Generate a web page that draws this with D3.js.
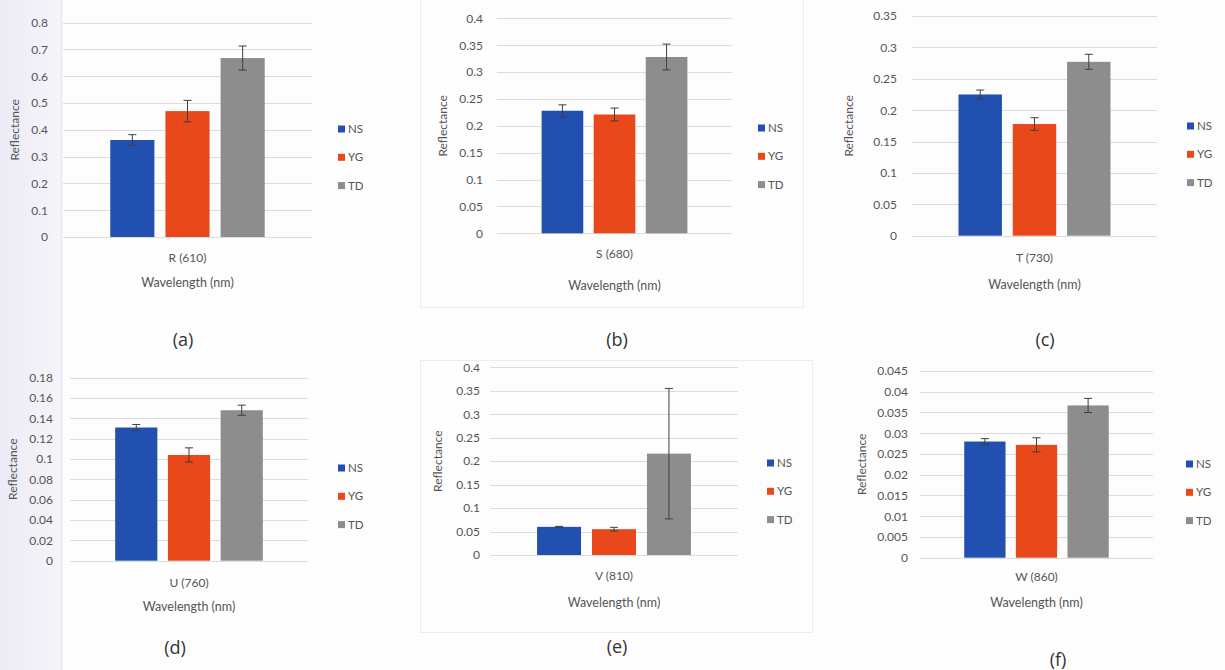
<!DOCTYPE html>
<html>
<head>
<meta charset="utf-8">
<script src="https://cdn.jsdelivr.net/npm/d3@7"></script>
<style>
  body { margin: 0; background: #fdfdfe; }
  svg { display: block; font-family: Lato, "Open Sans", sans-serif; }
</style>
</head>
<body>
<script>
// data
const series = ["NS", "YG", "TD"];
const colors = ["#2150b0", "#e9481a", "#8d8d8d"];
const categories = ["R (610)", "S (680)", "T (730)", "U (760)", "V (810)", "W (860)"];
const panelTags = ["(a)", "(b)", "(c)", "(d)", "(e)", "(f)"];

const nsValues = [0.362, 0.228, 0.225, 0.131, 0.060, 0.028];
const ygValues = [0.470, 0.221, 0.178, 0.104, 0.055, 0.0272];
const tdValues = [0.668, 0.328, 0.277, 0.148, 0.216, 0.0367];
const nsErrors = [0.020, 0.011, 0.007, 0.003, 0.001, 0.0007];
const ygErrors = [0.040, 0.012, 0.010, 0.007, 0.004, 0.0017];
const tdErrors = [0.045, 0.024, 0.012, 0.005, 0.139, 0.0017];

const yTicksA = [0, 0.1, 0.2, 0.3, 0.4, 0.5, 0.6, 0.7, 0.8];
const yTicksB = [0, 0.05, 0.1, 0.15, 0.2, 0.25, 0.3, 0.35, 0.4];
const yTicksC = [0, 0.05, 0.1, 0.15, 0.2, 0.25, 0.3, 0.35];
const yTicksD = [0, 0.02, 0.04, 0.06, 0.08, 0.1, 0.12, 0.14, 0.16, 0.18];
const yTicksE = [0, 0.05, 0.1, 0.15, 0.2, 0.25, 0.3, 0.35, 0.4];
const yTicksF = [0, 0.005, 0.01, 0.015, 0.02, 0.025, 0.03, 0.035, 0.04, 0.045];
const yTicks = [yTicksA, yTicksB, yTicksC, yTicksD, yTicksE, yTicksF];

// where each panel sits on the page
const layout = [
  {x0: 63,  x1: 312,  top: 22.7,  bot: 237,   pad: 15, catDy: 21, titDy: 46, reflX: 15,  legX: 338,  legY: 129, tagX: 183,  tagY: 340},
  {x0: 497, x1: 732,  top: 18.3,  bot: 233.3, pad: 14, catDy: 20, titDy: 52, reflX: 443, legX: 758,  legY: 128, tagX: 617,  tagY: 340},
  {x0: 912, x1: 1157, top: 16,    bot: 235.7, pad: 15, catDy: 22, titDy: 49, reflX: 849, legX: 1187, legY: 126, tagX: 1045, tagY: 340},
  {x0: 70,  x1: 308,  top: 377.7, bot: 560.7, pad: 17, catDy: 22, titDy: 46, reflX: 13,  legX: 338,  legY: 468, tagX: 175,  tagY: 648},
  {x0: 490, x1: 738,  top: 367.3, bot: 555,   pad: 10, catDy: 21, titDy: 48, reflX: 438, legX: 767,  legY: 463, tagX: 617,  tagY: 647},
  {x0: 920, x1: 1153, top: 371,   bot: 557.7, pad: 12, catDy: 19, titDy: 45, reflX: 862, legX: 1186, legY: 464, tagX: 1058, tagY: 660}
];

const svg = d3.select("body").append("svg")
  .attr("width", 1225)
  .attr("height", 670);

// scanner shading on the left edge
const grad = svg.append("defs").append("linearGradient").attr("id", "edge");
grad.append("stop").attr("offset", "0%").attr("stop-color", "#ecebf6");
grad.append("stop").attr("offset", "100%").attr("stop-color", "#f5f5fa");
svg.append("rect").attr("x", 0).attr("y", 0).attr("width", 62).attr("height", 670).attr("fill", "url(#edge)");
svg.append("line").attr("x1", 61.5).attr("x2", 61.5).attr("y1", 0).attr("y2", 670)
  .attr("stroke", "#e9e8f3").attr("stroke-width", 1.5);

// faint chart frames around (b) and (e)
svg.append("rect").attr("x", 420.5).attr("y", -1).attr("width", 383).attr("height", 308.5)
  .attr("fill", "none").attr("stroke", "#ececf0");
svg.append("rect").attr("x", 420.5).attr("y", 360.5).attr("width", 392).attr("height", 272)
  .attr("fill", "none").attr("stroke", "#ececf0");

const fmt = d3.format("~g");
const textCol = "#555";

layout.forEach(function(L, i) {
  const ticks = yTicks[i];
  const y = d3.scaleLinear()
    .domain([0, ticks[ticks.length - 1]])
    .range([L.bot, L.top]);
  const xOuter = d3.scaleBand()
    .domain([categories[i]])
    .range([L.x0, L.x1])
    .paddingInner(0)
    .paddingOuter(0.306);
  const xInner = d3.scaleBand()
    .domain(series)
    .range([0, xOuter.bandwidth()])
    .paddingInner(0.2)
    .paddingOuter(0);

  const g = svg.append("g");

  // gridlines
  g.selectAll(".grid").data(ticks).enter().append("line")
    .attr("class", "grid")
    .attr("x1", L.x0).attr("x2", L.x1)
    .attr("y1", d => Math.round(y(d)) + 0.5)
    .attr("y2", d => Math.round(y(d)) + 0.5)
    .attr("stroke", "#dcdcdc")
    .attr("stroke-width", 1);

  // y axis labels
  const yAxis = d3.axisLeft(y)
    .tickValues(ticks)
    .tickSize(0)
    .tickPadding(L.pad)
    .tickFormat(fmt);
  const ax = g.append("g")
    .attr("transform", "translate(" + L.x0 + ",0)")
    .call(yAxis);
  ax.select(".domain").remove();
  ax.selectAll("text")
    .style("font-family", "Lato, 'Open Sans', sans-serif")
    .style("font-size", "12px")
    .attr("fill", textCol);

  const rows = [
    {key: "NS", v: nsValues[i], e: nsErrors[i], c: colors[0]},
    {key: "YG", v: ygValues[i], e: ygErrors[i], c: colors[1]},
    {key: "TD", v: tdValues[i], e: tdErrors[i], c: colors[2]}
  ];
  const gx = xOuter(categories[i]);

  g.selectAll(".bar").data(rows).enter().append("rect")
    .attr("class", "bar")
    .attr("x", d => gx + xInner(d.key))
    .attr("y", d => y(d.v))
    .attr("width", xInner.bandwidth())
    .attr("height", d => y(0) - y(d.v))
    .attr("fill", d => d.c);

  // error bars
  const eb = g.selectAll(".err").data(rows).enter().append("g").attr("class", "err")
    .attr("stroke", "#3f3f3f").attr("stroke-width", 1);
  const cx = d => gx + xInner(d.key) + xInner.bandwidth() / 2;
  eb.append("line")
    .attr("x1", cx).attr("x2", cx)
    .attr("y1", d => y(d.v + d.e)).attr("y2", d => y(d.v - d.e));
  eb.append("line")
    .attr("x1", d => cx(d) - 4).attr("x2", d => cx(d) + 4)
    .attr("y1", d => y(d.v + d.e)).attr("y2", d => y(d.v + d.e));
  eb.append("line")
    .attr("x1", d => cx(d) - 4).attr("x2", d => cx(d) + 4)
    .attr("y1", d => y(d.v - d.e)).attr("y2", d => y(d.v - d.e));

  const mid = gx + xOuter.bandwidth() / 2;
  g.append("text")
    .attr("x", mid).attr("y", L.bot + L.catDy)
    .attr("dy", ".35em")
    .attr("text-anchor", "middle")
    .attr("fill", textCol)
    .style("font-size", "12px")
    .text(categories[i]);
  g.append("text")
    .attr("x", mid).attr("y", L.bot + L.titDy)
    .attr("dy", ".35em")
    .attr("text-anchor", "middle")
    .attr("fill", textCol)
    .style("font-size", "12.5px")
    .text("Wavelength (nm)");
  g.append("text")
    .attr("transform", "translate(" + L.reflX + "," + ((L.top + L.bot) / 2) + ") rotate(-90)")
    .attr("dy", ".35em")
    .attr("text-anchor", "middle")
    .attr("fill", textCol)
    .style("font-size", "12px")
    .text("Reflectance");

  // legend
  const leg = g.selectAll(".legend").data(series).enter().append("g")
    .attr("class", "legend")
    .attr("transform", (d, k) => "translate(" + L.legX + "," + (L.legY + k * 28.3) + ")");
  leg.append("rect")
    .attr("x", 0).attr("y", -3.5)
    .attr("width", 7).attr("height", 7)
    .attr("fill", (d, k) => colors[k]);
  leg.append("text")
    .attr("x", 10).attr("y", 0)
    .attr("dy", ".35em")
    .attr("fill", textCol)
    .style("font-size", "11.5px")
    .text(String);

  svg.append("text")
    .attr("x", L.tagX).attr("y", L.tagY)
    .attr("dy", ".35em")
    .attr("text-anchor", "middle")
    .attr("fill", "#333")
    .style("font-family", "'Open Sans', sans-serif")
    .style("font-size", "18px")
    .text(panelTags[i]);
});
</script>
</body>
</html>
